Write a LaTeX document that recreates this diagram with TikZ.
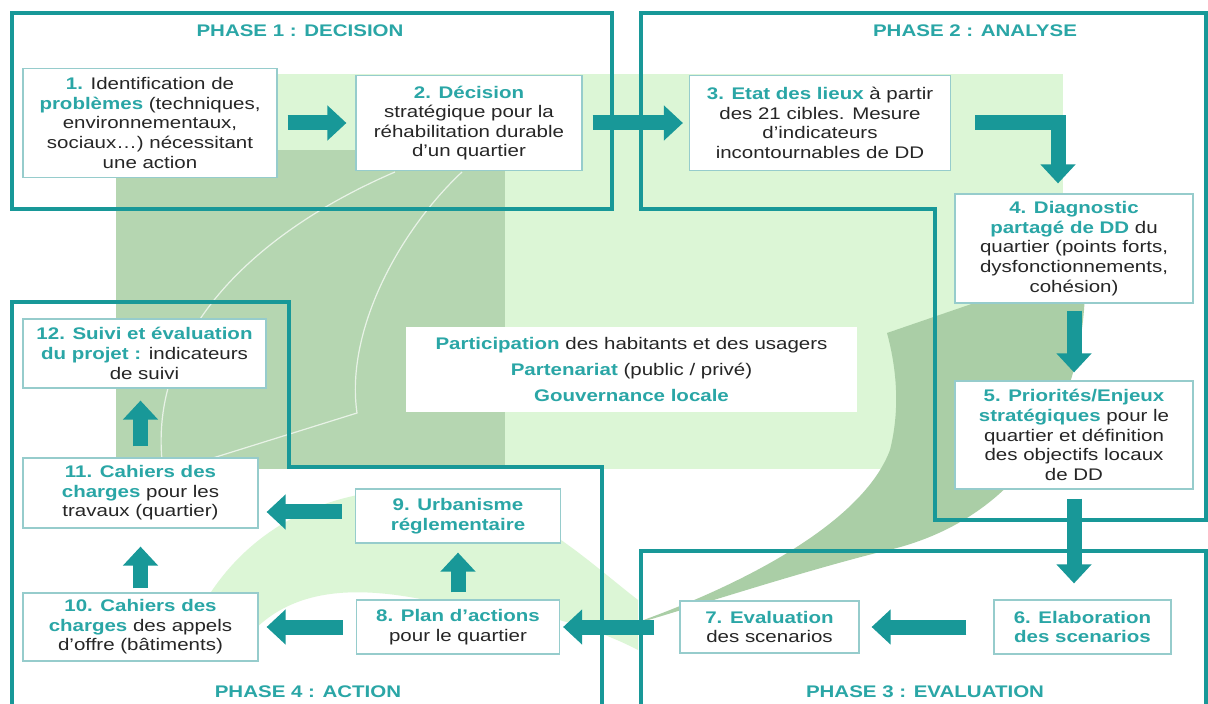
\documentclass[tikz,border=0pt]{standalone}
\usepackage{fontspec}
\setmainfont{Liberation Sans}[FakeStretch=1.22]
\usepackage{tikz}
\usetikzlibrary{
    arrows.meta,
    calc
}
\definecolor{phteal}{RGB}{24,152,152}
\definecolor{hlteal}{RGB}{42,166,166}
\definecolor{boxline}{RGB}{150,204,204}
\definecolor{bgpale}{RGB}{220,246,214}
\definecolor{bgdark}{RGB}{181,214,177}
\definecolor{bgmid}{RGB}{170,206,166}
\definecolor{txtgray}{RGB}{38,38,38}
\newcommand{\hl}[1]{\textcolor{hlteal}{\bfseries #1}}
\tikzset{
  etape/.style      = {draw=boxline, line width=0.6pt, fill=white, align=center,
                       inner sep=0pt, text=txtgray},
  phasetitle/.style = {font=\fontsize{8.4}{9.8}\selectfont\bfseries, text=hlteal},
  phaseline/.style  = {draw=phteal, line width=2pt},
  barr/.style       = {-{Triangle[length=9.5pt,width=17pt]}, line width=7.5pt, draw=phteal}
}

\begin{document}
\begin{tikzpicture}[
  x=0.5pt, y=-0.5pt,
  font=\fontsize{8.4}{9.8}\selectfont,
  sz/.style 2 args={minimum width=#1, minimum height=#2}
]
\useasboundingbox (0,0) rectangle (1208,704);
\clip (0,0) rectangle (1208,704);
\fill[white] (0,0) rectangle (1208,704);

\fill[bgpale] (116,74) rectangle (1063,469);
\fill[bgdark] (116,150) rectangle (505,469);
\fill[bgpale] (200,610) .. controls (250,520) and (340,485) .. (430,490)
   .. controls (520,495) and (580,555) .. (638,600) -- (638,650)
   .. controls (590,625) and (520,605) .. (440,603)
   .. controls (360,585) and (290,585) .. (245,640) -- cycle;
\fill[bgmid] (887,333) -- (1085,265) .. controls (1090,420) and (1010,525) .. (880,552)
   .. controls (790,575) and (700,605) .. (615,630)
   .. controls (720,595) and (860,530) .. (890,450)
   .. controls (900,410) and (897,370) .. (887,333) -- cycle;
\draw[white, line width=0.6pt, opacity=0.7] (395,172) .. controls (260,230) and (150,330) .. (162,460);
\draw[white, line width=0.6pt, opacity=0.7] (462,172) .. controls (400,230) and (345,330) .. (357,413) -- (200,462);

\draw[phaseline] (12,13) rectangle (612,209);
\draw[phaseline] (641,13) -- (1206,13) -- (1206,520) -- (935,520) -- (935,209) -- (641,209) -- cycle;
\draw[phaseline] (641,715) -- (641,551) -- (1206,551) -- (1206,715);
\draw[phaseline] (12,715) -- (12,302) -- (289,302) -- (289,467) -- (602,467) -- (602,715);

\node[phasetitle] (ph1) at (300,31) {PHASE 1 : DECISION};
\node[phasetitle] (ph2) at (975,31) {PHASE 2 : ANALYSE};
\node[phasetitle] (ph3) at (925,692) {PHASE 3 : EVALUATION};
\node[phasetitle] (ph4) at (308,692) {PHASE 4 : ACTION};

\node[etape, sz={127pt}{54.5pt}] (b1) at (150,123) {\hl{1.} Identification de\\ \hl{problèmes} (techniques,\\ environnementaux,\\ sociaux…) nécessitant\\ une action};
\node[etape, sz={113pt}{47.5pt}] (b2) at (469,123) {\hl{2. Décision}\\ stratégique pour la\\ réhabilitation durable\\ d'un quartier};
\node[etape, sz={130.5pt}{47.5pt}] (b3) at (820,123) {\hl{3. Etat des lieux} à partir\\ des 21 cibles. Mesure\\ d'indicateurs\\ incontournables de DD};
\node[etape, sz={119pt}{54.5pt}] (b4) at (1074,248.5) {\hl{4. Diagnostic}\\ \hl{partagé de DD} du\\ quartier (points forts,\\ dysfonctionnements,\\ cohésion)};
\node[etape, sz={119pt}{54pt}] (b5) at (1074,435) {\hl{5. Priorités/Enjeux}\\ \hl{stratégiques} pour le\\ quartier et définition\\ des objectifs locaux\\ de DD};
\node[etape, sz={88.5pt}{27pt}] (b6) at (1082.5,627) {\hl{6. Elaboration}\\ \hl{des scenarios}};
\node[etape, sz={89.5pt}{26pt}] (b7) at (769.5,627) {\hl{7. Evaluation}\\ des scenarios};
\node[etape, sz={101.5pt}{27pt}] (b8) at (458,627) {\hl{8. Plan d'actions}\\ pour le quartier};
\node[etape, sz={102.5pt}{27pt}] (b9) at (458,516) {\hl{9. Urbanisme}\\ \hl{réglementaire}};
\node[etape, sz={117.5pt}{34pt}] (b10) at (140.5,627) {\hl{10. Cahiers des}\\ \hl{charges} des appels\\ d'offre (bâtiments)};
\node[etape, sz={117.5pt}{35pt}] (b11) at (140.5,493) {\hl{11. Cahiers des}\\ \hl{charges} pour les\\ travaux (quartier)};
\node[etape, sz={121.5pt}{34.5pt}] (b12) at (144.5,353.5) {\hl{12. Suivi et évaluation}\\ \hl{du projet :} indicateurs\\ de suivi};
\node[etape, draw=none, sz={225.5pt}{42.5pt}, font=\fontsize{8.4}{13}\selectfont] (ctr) at (631.5,369.5)
  {\hl{Participation} des habitants et des usagers\\ \hl{Partenariat} (public / privé)\\ \hl{Gouvernance locale}};

\draw[barr, shorten <=5pt, shorten >=4.5pt] (b1) -- (b2);
\draw[barr, shorten <=5pt, shorten >=3pt] (b2) -- (b3);
\draw[barr] ([xshift=12pt]b3.east) -| ([xshift=-8pt,yshift=5pt]b4.north);
\draw[barr, shorten <=3.5pt, shorten >=4pt] (b4) -- (b5);
\draw[barr, shorten <=4.5pt, shorten >=8pt] (b5.south) -- (b5.south |- b6.north);
\draw[barr, shorten <=13.5pt, shorten >=6pt] (b6) -- (b7);
\draw[barr, shorten <=12.5pt, shorten >=1.5pt] (b7) -- (b8);
\draw[barr, shorten <=3.5pt, shorten >=4.5pt] (b8) -- (b9);
\draw[barr, shorten <=6.5pt, shorten >=4pt] (b8) -- (b10);
\draw[barr, shorten <=6.5pt, shorten >=4pt] ([yshift=2pt]b9.west) -- ([yshift=2pt]b9.west -| b11.east);
\draw[barr, shorten <=2pt, shorten >=9pt] (b10) -- (b11);
\draw[barr, shorten <=5.5pt, shorten >=6pt] (b11.north) -- (b11.north |- b12.south);

\end{tikzpicture}
\end{document}
